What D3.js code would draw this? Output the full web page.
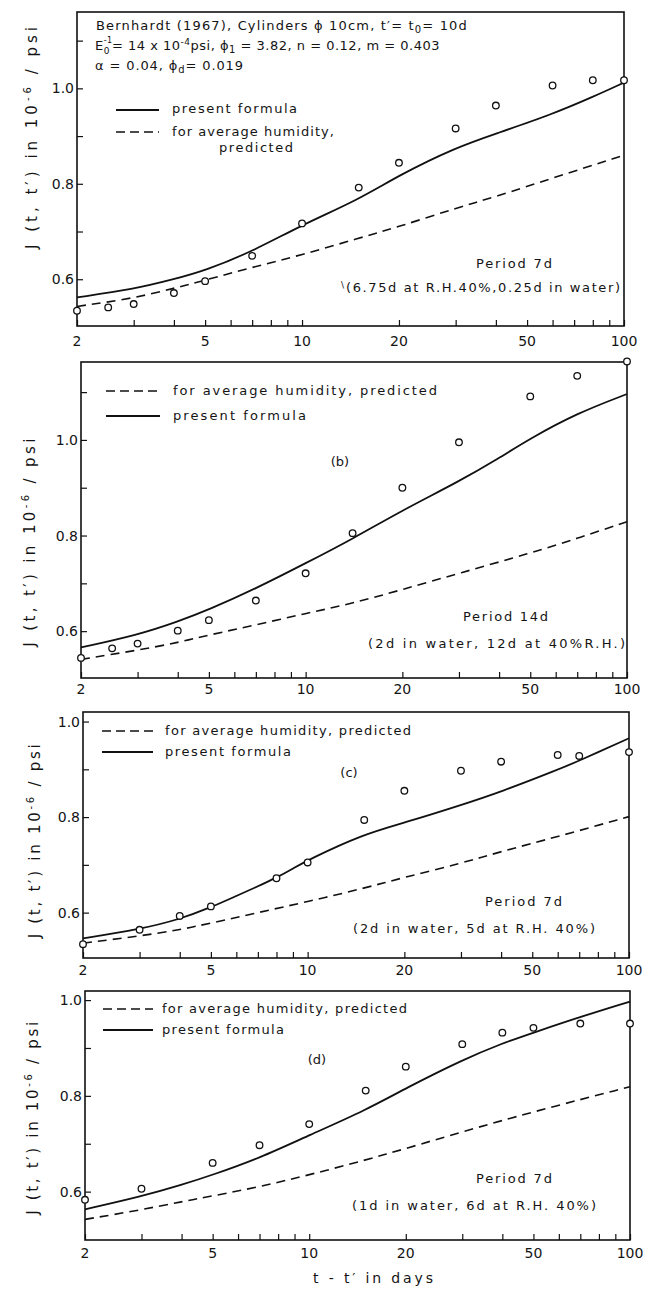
<!DOCTYPE html>
<html><head><meta charset="utf-8">
<script src="https://cdn.jsdelivr.net/npm/d3@7"></script>
<style>
body{margin:0;background:#fff}
svg{display:block}
text{font-family:"DejaVu Sans",sans-serif;fill:#141414}
</style>
</head><body>
<svg id="chart" width="646" height="1289"></svg>
<script>
// ---------------- DATA ----------------
const xTickLabels = [2, 5, 10, 20, 50, 100];
const xTickAll = [2,3,4,5,6,7,8,9,10,20,30,40,50,60,70,80,90,100];
const yTicksAB = [0.6, 0.7, 0.8, 0.9, 1.0, 1.1];
const yTicksCD = [0.6, 0.7, 0.8, 0.9, 1.0];
const yTickLabels = [0.6, 0.8, 1.0];

// panel (a)
const aPointT = [2, 2.5, 3, 4, 5, 7, 10, 15, 20, 30, 40, 60, 80, 100];
const aPointJ = [0.534, 0.541, 0.548, 0.571, 0.596, 0.649, 0.717, 0.792, 0.844, 0.916, 0.964, 1.006, 1.017, 1.017];
const aSolidT = [2, 3, 4, 5, 7, 10, 15, 20, 30, 40, 60, 80, 100];
const aSolidJ = [0.562, 0.579, 0.600, 0.618, 0.658, 0.714, 0.767, 0.818, 0.876, 0.905, 0.946, 0.982, 1.012];
const aDashT = [2, 3, 4, 5, 7, 10, 15, 20, 30, 40, 60, 100];
const aDashJ = [0.543, 0.560, 0.581, 0.598, 0.625, 0.651, 0.686, 0.710, 0.749, 0.773, 0.812, 0.860];

// panel (b)
const bPointT = [2, 2.5, 3, 4, 5, 7, 10, 14, 20, 30, 50, 70, 100];
const bPointJ = [0.544, 0.564, 0.574, 0.601, 0.623, 0.664, 0.721, 0.805, 0.900, 0.995, 1.091, 1.134, 1.164];
const bSolidT = [2, 3, 4, 5, 7, 10, 14, 20, 30, 40, 50, 70, 100];
const bSolidJ = [0.566, 0.592, 0.620, 0.645, 0.689, 0.742, 0.793, 0.853, 0.913, 0.962, 1.003, 1.056, 1.096];
const bDashT = [2, 3, 4, 5, 7, 10, 14, 20, 30, 50, 70, 100];
const bDashJ = [0.541, 0.560, 0.576, 0.592, 0.613, 0.637, 0.658, 0.687, 0.721, 0.763, 0.794, 0.829];

// panel (c)
const cPointT = [2, 3, 4, 5, 8, 10, 15, 20, 30, 40, 60, 70, 100];
const cPointJ = [0.534, 0.564, 0.593, 0.613, 0.672, 0.705, 0.794, 0.855, 0.897, 0.916, 0.930, 0.928, 0.936];
const cSolidT = [2, 3, 4, 5, 6, 7, 8, 9, 10, 15, 20, 30, 40, 60, 70, 100];
const cSolidJ = [0.546, 0.565, 0.586, 0.611, 0.635, 0.655, 0.673, 0.692, 0.710, 0.765, 0.788, 0.825, 0.853, 0.899, 0.918, 0.965];
const cDashT = [2, 3, 4, 5, 7, 10, 15, 20, 30, 40, 60, 100];
const cDashJ = [0.536, 0.551, 0.564, 0.578, 0.600, 0.623, 0.651, 0.674, 0.703, 0.728, 0.759, 0.801];

// panel (d)
const dPointT = [2, 3, 5, 7, 10, 15, 20, 30, 40, 50, 70, 100];
const dPointJ = [0.583, 0.606, 0.660, 0.697, 0.741, 0.811, 0.861, 0.908, 0.932, 0.942, 0.951, 0.951];
const dSolidT = [2, 3, 4, 5, 7, 10, 15, 20, 30, 40, 50, 70, 100];
const dSolidJ = [0.563, 0.590, 0.614, 0.635, 0.670, 0.718, 0.770, 0.816, 0.875, 0.910, 0.932, 0.965, 0.997];
const dDashT = [2, 3, 4, 5, 7, 10, 15, 20, 30, 50, 100];
const dDashJ = [0.542, 0.562, 0.579, 0.591, 0.610, 0.635, 0.666, 0.690, 0.725, 0.767, 0.819];

const legendDashed = "for average humidity, predicted";
const legendSolid = "present formula";

// ---------------- LAYOUT ----------------
const svg = d3.select("#chart");
const zip = (t, j) => t.map((v, i) => ({t: v, j: j[i]}));

function fit(sel, w) {
  const node = sel.node();
  const len = node.getComputedTextLength();
  const n = node.textContent.length;
  if (n > 1) sel.style("letter-spacing", ((w - len) / (n - 1)) + "px");
  return sel;
}

const panels = [
  {id: "a", x0: 77, x1: 624, y0: 12, y1: 326, ymin: 0.502, ymax: 1.160, yticks: yTicksAB,
   pts: zip(aPointT, aPointJ), solid: zip(aSolidT, aSolidJ), dash: zip(aDashT, aDashJ),
   xlabY: 346, ytitle: {x: 37, cy: 136, w: 222}},
  {id: "b", x0: 81, x1: 627, y0: 362, y1: 678, ymin: 0.502, ymax: 1.163, yticks: yTicksAB,
   pts: zip(bPointT, bPointJ), solid: zip(bSolidT, bSolidJ), dash: zip(bDashT, bDashJ),
   xlabY: 694, ytitle: {x: 35, cy: 541, w: 208}},
  {id: "c", x0: 83, x1: 629, y0: 712, y1: 958, ymin: 0.505, ymax: 1.020, yticks: yTicksCD,
   pts: zip(cPointT, cPointJ), solid: zip(cSolidT, cSolidJ), dash: zip(cDashT, cDashJ),
   xlabY: 975, ytitle: {x: 40, cy: 840, w: 194}},
  {id: "d", x0: 85, x1: 630, y0: 991, y1: 1240, ymin: 0.499, ymax: 1.019, yticks: yTicksCD,
   pts: zip(dPointT, dPointJ), solid: zip(dSolidT, dSolidJ), dash: zip(dDashT, dDashJ),
   xlabY: 1258, ytitle: {x: 38, cy: 1117, w: 193}}
];

panels.forEach(p => {
  const x = d3.scaleLog().domain([2, 100]).range([p.x0, p.x1]);
  const y = d3.scaleLinear().domain([p.ymin, p.ymax]).range([p.y1, p.y0]);
  const g = svg.append("g");

  // x ticks (inward)
  const xAxis = d3.axisTop(x).tickValues(xTickAll).tickSize(6).tickFormat("");
  const gx = g.append("g").attr("transform", `translate(0,${p.y1})`).call(xAxis);
  gx.select(".domain").remove();
  gx.selectAll("line").attr("stroke", "#111").attr("stroke-width", 1.2);

  // y ticks (inward)
  const yAxis = d3.axisRight(y).tickValues(p.yticks).tickSize(6).tickFormat("");
  const gy = g.append("g").attr("transform", `translate(${p.x0},0)`).call(yAxis);
  gy.select(".domain").remove();
  gy.selectAll("line").attr("stroke", "#111").attr("stroke-width", 1.2);

  // tick labels
  g.selectAll(".xl").data(xTickLabels).enter().append("text")
    .attr("x", d => x(d)).attr("y", p.xlabY).attr("text-anchor", "middle")
    .attr("font-size", 14).text(d => d);
  g.selectAll(".yl").data(yTickLabels).enter().append("text")
    .attr("x", p.x0 - 3).attr("y", d => y(d) + 5).attr("text-anchor", "end")
    .attr("font-size", 14).text(d => d.toFixed(1));

  // frame
  g.append("rect").attr("x", p.x0).attr("y", p.y0)
    .attr("width", p.x1 - p.x0).attr("height", p.y1 - p.y0)
    .attr("fill", "none").attr("stroke", "#111").attr("stroke-width", 1.6);

  // curves
  const line = d3.line().x(d => x(d.t)).y(d => y(d.j)).curve(d3.curveBasis);
  g.append("path").attr("d", line(p.dash)).attr("fill", "none")
    .attr("stroke", "#111").attr("stroke-width", 1.6).attr("stroke-dasharray", "9,6");
  g.append("path").attr("d", line(p.solid)).attr("fill", "none")
    .attr("stroke", "#111").attr("stroke-width", 1.8);

  // points
  g.selectAll(".pt").data(p.pts).enter().append("circle")
    .attr("cx", d => x(d.t)).attr("cy", d => y(d.j)).attr("r", 3.3)
    .attr("fill", "#fff").attr("stroke", "#111").attr("stroke-width", 1.3);

  // y axis title
  const yt = g.append("text")
    .attr("transform", `translate(${p.ytitle.x},${p.ytitle.cy}) rotate(-90)`)
    .attr("text-anchor", "middle").attr("font-size", 15);
  yt.append("tspan").text("J (t, t′) in 10");
  yt.append("tspan").attr("dy", -6).attr("font-size", 10).text("-6");
  yt.append("tspan").attr("dy", 6).text(" / psi");
  fit(yt, p.ytitle.w);
});

// ---------------- ANNOTATIONS ----------------
function txt(x, y, s, size, w, anchor) {
  const t = svg.append("text").attr("x", x).attr("y", y).attr("font-size", size || 13)
    .attr("text-anchor", anchor || "start").text(s);
  if (w) fit(t, w);
  return t;
}
function legLine(x0, x1, yy, dashed) {
  const l = svg.append("line").attr("x1", x0).attr("x2", x1).attr("y1", yy).attr("y2", yy)
    .attr("stroke", "#111").attr("stroke-width", dashed ? 1.6 : 1.8);
  if (dashed) l.attr("stroke-dasharray", "9,5");
}

// panel (a) header
{
  const t1 = svg.append("text").attr("x", 96).attr("y", 30).attr("font-size", 13);
  t1.append("tspan").text("Bernhardt (1967), Cylinders  ϕ 10cm, t′= t");
  t1.append("tspan").attr("dy", 3).attr("font-size", 10).text("0");
  t1.append("tspan").attr("dy", -3).text("= 10d");
  fit(t1, 372);

  const t2 = svg.append("text").attr("x", 95).attr("y", 50).attr("font-size", 13);
  t2.append("tspan").text("E");
  t2.append("tspan").attr("dy", -7).attr("font-size", 8).text("-1");
  t2.append("tspan").attr("dx", -9).attr("dy", 11).attr("font-size", 9).text("0");
  t2.append("tspan").attr("dx", 2).attr("dy", -4).text("= 14 x 10");
  t2.append("tspan").attr("dy", -5).attr("font-size", 9).text("-4");
  t2.append("tspan").attr("dy", 5).text("psi,  ϕ");
  t2.append("tspan").attr("dy", 3).attr("font-size", 10).text("1");
  t2.append("tspan").attr("dy", -3).text(" = 3.82, n = 0.12, m = 0.403");
  fit(t2, 352);

  const t3 = svg.append("text").attr("x", 95).attr("y", 70).attr("font-size", 13);
  t3.append("tspan").text("α = 0.04, ϕ");
  t3.append("tspan").attr("dy", 3).attr("font-size", 10).text("d");
  t3.append("tspan").attr("dy", -3).text("= 0.019");
  fit(t3, 148);

  legLine(116, 159, 110, false);
  txt(172, 113, legendSolid, 13, 125);
  legLine(116, 159, 132, true);
  txt(172, 136, "for average humidity,", 13, 162);
  txt(219, 152, "predicted", 13, 74);
  txt(476, 268, "Period 7d", 13, 76);
  txt(341, 288, "\\", 9);
  txt(346, 292, "(6.75d at R.H.40%,0.25d in water)", 13, 274);
}
// panel (b)
legLine(106, 160, 391, true);
txt(173, 395, legendDashed, 13, 264);
legLine(106, 160, 416, false);
txt(173, 420, legendSolid, 13, 133);
txt(340, 466, "(b)", 13, null, "middle");
txt(463, 621, "Period 14d", 13, 85);
txt(368, 648, "(2d in water, 12d at 40%R.H.)", 13, 257);
// panel (c)
legLine(102, 153, 731, true);
txt(165, 735, legendDashed, 13, 246);
legLine(102, 153, 752, false);
txt(165, 756, legendSolid, 13, 126);
txt(349, 777, "(c)", 13, null, "middle");
txt(485, 906, "Period 7d", 13, 77);
txt(353, 933, "(2d in water, 5d at R.H. 40%)", 13, 242);
// panel (d)
legLine(103, 153, 1009, true);
txt(162, 1013, legendDashed, 13, 245);
legLine(103, 153, 1030, false);
txt(162, 1034, legendSolid, 13, 122);
txt(317, 1064, "(d)", 13, null, "middle");
txt(476, 1183, "Period 7d", 13, 76);
txt(352, 1210, "(1d in water, 6d at R.H. 40%)", 13, 244);
// x title
txt(313, 1283, "t - t′ in days", 14, 120);
</script>
</body></html>
